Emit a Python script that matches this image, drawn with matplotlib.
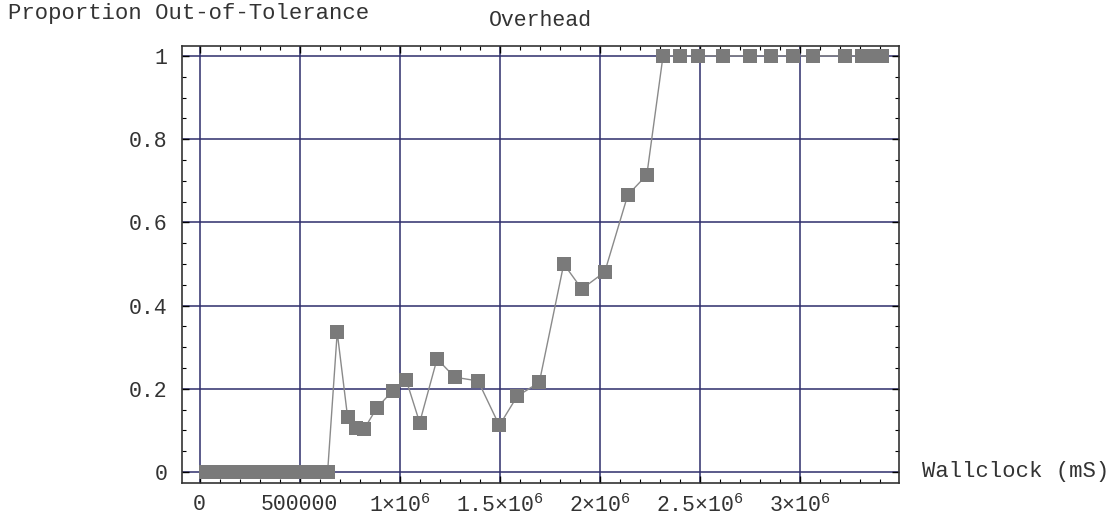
import matplotlib.pyplot as plt
from matplotlib.ticker import MultipleLocator, FixedLocator

plt.rcParams['font.family'] = ['Liberation Mono', 'DejaVu Sans Mono']
plt.rcParams['mathtext.fontset'] = 'custom'
plt.rcParams['mathtext.rm'] = 'Liberation Mono'
plt.rcParams['mathtext.it'] = 'Liberation Mono'

# wallclock (mS) and proportion out-of-tolerance
wallclock = [30000, 70000, 110000, 150000, 190000, 230000, 270000, 310000,
             350000, 390000, 430000, 470000, 510000, 550000, 590000, 640000,
             688000, 740000, 780000, 822000, 887000, 965000, 1033000, 1100000,
             1187000, 1275000, 1392000, 1498000, 1587000, 1698000, 1820000,
             1910000, 2025000, 2140000, 2235000, 2316000, 2403000, 2490000,
             2618000, 2751000, 2853000, 2963000, 3063000, 3225000, 3310000,
             3379000, 3409000]
proportion = [0, 0, 0, 0, 0, 0, 0, 0,
              0, 0, 0, 0, 0, 0, 0, 0,
              0.336, 0.132, 0.105, 0.103, 0.155, 0.195, 0.221, 0.119,
              0.272, 0.228, 0.219, 0.112, 0.182, 0.216, 0.5,
              0.44, 0.481, 0.666, 0.714, 1, 1, 1,
              1, 1, 1, 1, 1, 1, 1,
              1, 1]

xticks = [0, 500000, 1000000, 1500000, 2000000, 2500000, 3000000]
xlabels = ['0', '500000', r'1×10$^{6}$', r'1.5×10$^{6}$', r'2×10$^{6}$',
           r'2.5×10$^{6}$', r'3×10$^{6}$']
yticks = [0, 0.2, 0.4, 0.6, 0.8, 1]
ylabels = ['0', '0.2', '0.4', '0.6', '0.8', '1']

fig = plt.figure(figsize=(11.17, 5.2), dpi=100)
ax = fig.add_axes([181.5 / 1117, 1 - 482.5 / 520, (899 - 181.5) / 1117, (482.5 - 45.5) / 520])

grid_color = '#2e2d6b'
for x in xticks:
    ax.axvline(x, color=grid_color, lw=1.1, zorder=1)
for y in yticks:
    ax.axhline(y, color=grid_color, lw=1.1, zorder=1)

ax.plot(wallclock, proportion, color='#8a8a8a', lw=1.0, zorder=2)
ax.plot(wallclock, proportion, ls='none', marker='s', ms=9.5, mew=0,
        color='#7a7a7a', zorder=3)

ax.set_xlim(-90000, 3495000)
ax.set_ylim(-0.025, 1.025)

ax.xaxis.set_major_locator(FixedLocator(xticks))
ax.set_xticklabels(xlabels)
ax.xaxis.set_minor_locator(MultipleLocator(100000))
ax.yaxis.set_major_locator(FixedLocator(yticks))
ax.set_yticklabels(ylabels)
ax.yaxis.set_minor_locator(MultipleLocator(0.05))

ax.tick_params(which='both', direction='in', top=True, right=True,
               labelsize=15.5, colors='black', labelcolor='#333333')
ax.tick_params(which='major', length=5, width=1)
ax.tick_params(which='minor', length=3, width=0.8)
ax.tick_params(axis='x', pad=8)
ax.tick_params(axis='y', pad=10)
for s in ax.spines.values():
    s.set_color('#333333')
    s.set_linewidth(1.2)

ax.set_title('Overhead', fontsize=15.5, pad=14, color='#333333')
fig.text(8 / 1117, 1 - 14 / 520, 'Proportion Out-of-Tolerance', fontsize=16,
         va='center', ha='left', color='#333333')
fig.text(922 / 1117, 1 - 471 / 520, 'Wallclock (mS)', fontsize=16,
         va='center', ha='left', color='#333333')

fig.savefig('out.png', dpi=100)
